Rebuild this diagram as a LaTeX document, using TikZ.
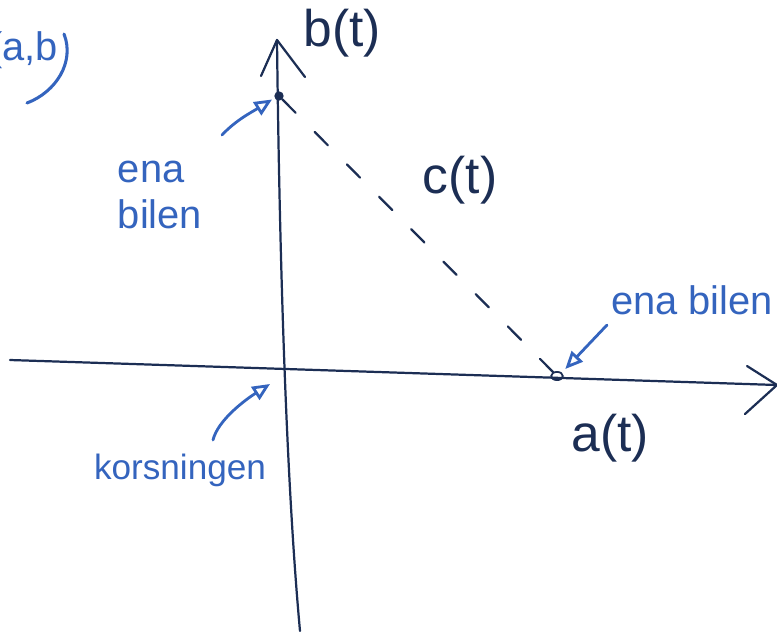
\documentclass[tikz,border=0pt]{standalone}
\usepackage{fontspec}
\setmainfont{Liberation Sans}
\usetikzlibrary{arrows.meta,positioning,shapes.geometric}
\definecolor{inkblue}{RGB}{28,46,84}
\definecolor{penblue}{RGB}{52,100,190}

\begin{document}
\begin{tikzpicture}[x=0.03cm, y=-0.03cm,
    ink/.style={draw=inkblue, line width=1.9pt, line cap=round, line join=round},
    pen/.style={draw=penblue, line width=2.4pt, line cap=round, -{Triangle[open, length=15pt, width=13pt]}},
    axislabel/.style={text=inkblue, font=\fontsize{44}{48}\selectfont},
    note/.style={text=penblue, font=\fontsize{34}{40}\selectfont, align=left, inner sep=0pt}]
    \useasboundingbox (0,0) rectangle (777,631);
    % axes
    \coordinate (xleft) at (10,360);
    \coordinate (xright) at (777,385);
    \coordinate (ybottom) at (300,631);
    \coordinate (ytop) at (277,40);
    \draw[ink] (xleft) -- (xright);
    \draw[ink] (747,366) -- (xright) -- (745,414);
    \draw[ink] (ybottom) .. controls (288,500) and (280,300) .. (ytop);
    \draw[ink] (261,76) -- (ytop) -- (305,77);
    \node[axislabel] (blabel) at (342,33) {b(t)};
    \node[axislabel] (alabel) at (610,438) {a(t)};
    % the two cars
    \node[circle, fill=inkblue, inner sep=0pt, minimum size=8pt] (carb) at (279,96) {};
    \node[ellipse, draw=inkblue, line width=1.5pt, inner sep=0pt, minimum width=10pt, minimum height=7pt] (cara) at (557,376) {};
    \draw[ink, dash pattern=on 16pt off 23pt] (carb) -- (cara);
    \node[axislabel] (clabel) at (460,180) {c(t)};
    % notes
    \node[note] (bilenb) at (160,195) {ena\\bilen};
    \node[note] (bilena) at (692,300) {ena bilen};
    \node[note, font=\fontsize{30}{36}\selectfont] (kors) at (180,470) {korsningen};
    \node[note, anchor=east] (ab) at (58,50) {(a,b};
    \draw[draw=penblue, line width=2.6pt, line cap=round] (64,34) .. controls (75,62) and (56,92) .. (27,103);
    \coordinate (tailb) at (222,135);
    \coordinate (taila) at (607,325);
    \coordinate (tailk) at (213,440);
    \draw[pen] (tailb) .. controls (236,120) and (252,112) .. ([xshift=-3pt]carb.south west);
    \draw[pen] (taila) -- ([xshift=3pt, yshift=3pt]cara.north east);
    \draw[pen] (tailk) .. controls (218,420) and (245,400) .. (270,384);
\end{tikzpicture}
\end{document}
